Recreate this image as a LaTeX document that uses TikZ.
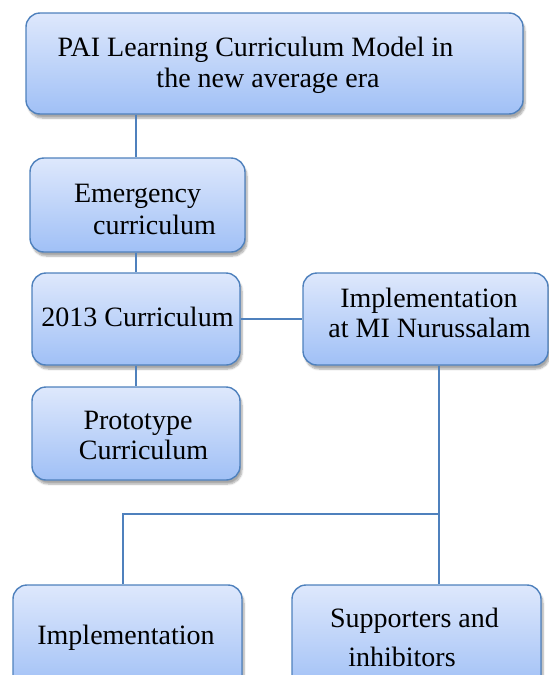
\documentclass[tikz,border=0pt]{standalone}
\usepackage{fontspec}
\setmainfont{Liberation Serif}
\usetikzlibrary{shadows.blur}

\definecolor{boxedge}{RGB}{79,129,189}
\definecolor{boxtop}{RGB}{222,232,252}
\definecolor{boxbot}{RGB}{160,192,246}

\tikzset{
  box/.style={draw=boxedge, line width=1.4pt, rounded corners=14pt,
    top color=boxtop, bottom color=boxbot, inner sep=0pt,
    blur shadow={shadow xshift=2pt, shadow yshift=-4pt, shadow blur steps=6, shadow opacity=35}},
  txt/.style={anchor=base, inner sep=0pt, font=\fontsize{28}{31}\selectfont},
  link/.style={draw=boxedge, line width=1.4pt}
}

\newcommand{\boxat}[6]{% name, x1, y1, x2, y2, options
  \node[box, #6, minimum width={(#4-#2)*1pt}, minimum height={(#5-#3)*1pt}]
    (#1) at ({(#2+#4)/2},{(#3+#5)/2}) {};}

\begin{document}
\begin{tikzpicture}[x=1pt, y=-1pt]
  \useasboundingbox (0,0) rectangle (549,675);

  % boxes
  \boxat{top}{26}{13}{523}{114}{}
  \boxat{emerg}{30}{158}{245}{252}{}
  \boxat{k13}{32}{273}{240}{365}{}
  \boxat{mi}{303}{273}{548}{365}{}
  \boxat{proto}{32}{387}{240}{480}{}
  \boxat{impl}{13}{585}{242}{690}{}
  \boxat{supp}{292}{585}{541}{690}{}

  % labels
  \node[txt] (top-a) at (255.5,56) {PAI Learning Curriculum Model in};
  \node[txt] (top-b) at (268,87) {the new average era};
  \node[txt] (emerg-a) at (137.5,202.5) {Emergency};
  \node[txt] (emerg-b) at (154.5,234) {curriculum};
  \node[txt] (k13-a) at (137.5,326) {2013 Curriculum};
  \node[txt] (mi-a) at (429,307) {Implementation};
  \node[txt] (mi-b) at (429.5,337) {at MI Nurussalam};
  \node[txt] (proto-a) at (138,429) {Prototype};
  \node[txt] (proto-b) at (143.5,459) {Curriculum};
  \node[txt] (impl-a) at (126,644.5) {Implementation};
  \node[txt] (supp-a) at (414.5,627) {Supporters and};
  \node[txt] (supp-b) at (402,666) {inhibitors};

  % connectors
  \coordinate (spine) at (136,0);
  \coordinate (split) at (439,514);
  \coordinate (lft) at (123,514);
  \draw[link] (top.south -| spine) -- (emerg.north -| spine);
  \draw[link] (emerg.south -| spine) -- (k13.north -| spine);
  \draw[link] (k13.south -| spine) -- (proto.north -| spine);
  \draw[link] (k13.east) -- (mi.west |- k13.east);
  \draw[link] (mi.south -| split) -- (split) -- (lft) -- (lft |- impl.north);
  \draw[link] (split) -- (split |- supp.north);
\end{tikzpicture}
\end{document}
